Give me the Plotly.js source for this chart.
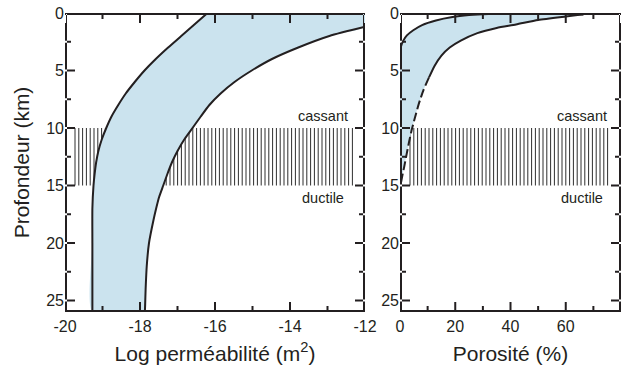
<!DOCTYPE html>
<html>
<head>
<meta charset="utf-8">
<script src="https://cdn.plot.ly/plotly-3.0.1.min.js"></script>
<style>
  html, body { margin: 0; padding: 0; background: #ffffff; }
  #chart { width: 628px; height: 371px; }
</style>
</head>
<body>
<div id="chart"></div>
<script>
// ---- Permeability envelope (log10 k, m^2) versus depth (km) ----
const permLowDepth = [0, 1, 2, 3, 4, 5, 6, 7, 8, 9, 10, 11, 12, 13, 14, 15, 17, 20, 26];
const permLow      = [-16.2, -16.55, -16.9, -17.25, -17.58, -17.88, -18.14, -18.38, -18.58, -18.76, -18.9, -19.02, -19.11, -19.17, -19.21, -19.24, -19.27, -19.27, -19.27];

const permHighDepth = [1.2, 2, 3, 4, 5, 6, 7, 8, 9, 10, 11, 12, 13, 14, 15, 16, 17, 18, 20, 22, 24, 26];
const permHigh      = [-12.0, -12.95, -13.78, -14.48, -15.02, -15.48, -15.85, -16.15, -16.38, -16.6, -16.82, -17.0, -17.15, -17.27, -17.38, -17.49, -17.57, -17.64, -17.76, -17.82, -17.85, -17.87];

// ---- Porosity envelope (%) versus depth (km) ----
const poroLowDepth = [3.3, 2.95, 2.4, 1.95, 1.5, 1.05, 0.65, 0.35, 0.18, 0.08, 0.04, 0.04, 0.06, 0.12];
const poroLow      = [0, 0.3, 1.2, 2.5, 4.8, 8, 13, 19, 25, 32, 40, 50, 60, 66.4];

const poroHighDepth = [0.12, 0.3, 0.6, 1.0, 1.3, 1.75, 2.4, 3.0, 3.7, 4.6, 5.6, 6.7, 7.9, 9.2, 10.2, 11.3, 12.4, 13.4, 14.2, 14.9];
const poroHigh      = [66.4, 60, 50, 42, 35, 28, 22, 18, 15, 12.5, 10.5, 8.5, 6.8, 5.3, 4.2, 3.2, 2.3, 1.5, 0.8, 0.25];
const poroExtrapolatedBelow = 5.6;   // the deeper part of the upper porosity bound is dashed

// ---- Brittle / ductile transition zone (km) ----
const transitionZone = [10, 15];
const zoneLabels = ['cassant', 'ductile'];
const zoneLabelDepth = [8.95, 16.05];

// ---- Axes ----
const permRange = [-20, -12];
const poroRange = [0, 80];
const depthRange = [26, 0];
const permTickVals = [-20, -18, -16, -14, -12];
const permTickText = ['-20', '-18', '-16', '-14', '-12'];
const permMinorVals = [-19, -17, -15, -13];
const poroTickVals = [0, 20, 40, 60, 80];
const poroMinorVals = [10, 30, 50, 70];
const depthTickVals = [0, 5, 10, 15, 20, 25];
const depthMinorVals = [2.5, 7.5, 12.5, 17.5, 22.5];

const W = 628, H = 371;
const INK = '#231f20';
const BLUE = '#cbe3ee';
const FONT = 'Liberation Sans, Arial, Helvetica, sans-serif';

// plot areas in pixels
const leftPx = [65, 365], rightPx = [400, 621], topPx = 13, botPx = 312;
const yDomain = [1 - botPx / H, 1 - topPx / H];
const TICK = 10, MINOR_TICK = 6, STROKE = 2;
const HATCH_PX = 3.8;   // spacing of the vertical hatch strokes

// data units per pixel along each axis
const perPx = (range, px) => (range[1] - range[0]) / (px[1] - px[0]);
const depthPerPx = (depthRange[0] - depthRange[1]) / (botPx - topPx);

// vertical hatch strokes across the transition zone, ending at the tips of the major ticks
function hatchTrace(range, px, xa, ya) {
  const per = perPx(range, px);
  const a = range[0] + TICK * per, b = range[1] - TICK * per;
  const step = HATCH_PX * per;
  const hx = [], hy = [];
  for (let v = a; v <= b + step * 0.01; v += step) {
    hx.push(v, v, null);
    hy.push(transitionZone[0], transitionZone[1], null);
  }
  return {
    type: 'scatter', mode: 'lines', xaxis: xa, yaxis: ya, x: hx, y: hy,
    line: { color: '#2e2e2e', width: 1 }, hoverinfo: 'skip'
  };
}

// panel frame and inward tick marks, built as small filled bars
function frameTrace(range, px, xa, ya, xMajor, xMinor) {
  const px1 = perPx(range, px);
  const yBot = depthRange[0], yTop = depthRange[1];
  const fx = [], fy = [];
  const bar = (x0, x1, y0, y1) => {
    fx.push(x0, x1, x1, x0, x0, null);
    fy.push(y0, y0, y1, y1, y0, null);
  };
  const hw = STROKE / 2;
  // frame sides
  bar(range[0], range[1], yBot, yBot - STROKE * depthPerPx);
  bar(range[0], range[1], yTop, yTop + STROKE * depthPerPx);
  bar(range[0], range[0] + STROKE * px1, yBot, yTop);
  bar(range[1] - STROKE * px1, range[1], yBot, yTop);
  // ticks on the bottom and top edges
  const xTick = (v, len) => {
    bar(v - hw * px1, v + hw * px1, yBot, yBot - len * depthPerPx);
    bar(v - hw * px1, v + hw * px1, yTop, yTop + len * depthPerPx);
  };
  // ticks on the left and right edges
  const yTick = (v, len) => {
    bar(range[0], range[0] + len * px1, v - hw * depthPerPx, v + hw * depthPerPx);
    bar(range[1] - len * px1, range[1], v - hw * depthPerPx, v + hw * depthPerPx);
  };
  xMajor.forEach((v) => xTick(v, TICK));
  xMinor.forEach((v) => xTick(v, MINOR_TICK));
  depthTickVals.forEach((v) => yTick(v, TICK));
  depthMinorVals.forEach((v) => yTick(v, MINOR_TICK));
  return {
    type: 'scatter', mode: 'lines', xaxis: xa, yaxis: ya, x: fx, y: fy,
    fill: 'toself', fillcolor: INK, line: { width: 0 }, hoverinfo: 'skip'
  };
}

// permeability band polygon: low bound downwards, high bound upwards, closed along the top edge
const permPolyX = permLow.concat(permHigh.slice().reverse(), [permRange[1]]);
const permPolyY = permLowDepth.concat(permHighDepth.slice().reverse(), [0]);

// porosity band polygon: low bound then high bound, closed along the zero-porosity edge
const poroPolyX = poroLow.concat(poroHigh);
const poroPolyY = poroLowDepth.concat(poroHighDepth);

// split the upper porosity bound into its solid and dashed parts
const solidX = [], solidY = [], dashX = [], dashY = [];
poroHigh.forEach((v, i) => {
  const d = poroHighDepth[i];
  if (d <= poroExtrapolatedBelow) { solidX.push(v); solidY.push(d); }
  if (d >= poroExtrapolatedBelow) { dashX.push(v); dashY.push(d); }
});

const curve = (x, y, xa, ya, dash) => ({
  type: 'scatter', mode: 'lines', x, y, xaxis: xa, yaxis: ya,
  line: { color: INK, width: 2, shape: 'spline', smoothing: 0.6, dash: dash || 'solid' },
  hoverinfo: 'skip'
});

const traces = [
  hatchTrace(permRange, leftPx, 'x', 'y'),
  { type: 'scatter', mode: 'lines', x: permPolyX, y: permPolyY, fill: 'toself', fillcolor: BLUE,
    line: { width: 0, shape: 'spline', smoothing: 0.6 }, hoverinfo: 'skip' },
  curve(permLow, permLowDepth, 'x', 'y'),
  curve(permHigh, permHighDepth, 'x', 'y'),
  frameTrace(permRange, leftPx, 'x', 'y', permTickVals, permMinorVals),

  hatchTrace(poroRange, rightPx, 'x2', 'y2'),
  { type: 'scatter', mode: 'lines', x: poroPolyX, y: poroPolyY, xaxis: 'x2', yaxis: 'y2',
    fill: 'toself', fillcolor: BLUE, line: { width: 0, shape: 'spline', smoothing: 0.6 }, hoverinfo: 'skip' },
  curve(poroLow, poroLowDepth, 'x2', 'y2'),
  curve(solidX, solidY, 'x2', 'y2'),
  curve(dashX, dashY, 'x2', 'y2', '9px,3.5px'),
  frameTrace(poroRange, rightPx, 'x2', 'y2', poroTickVals, poroMinorVals)
];

// axes carry the tick labels and titles
function axis(extra) {
  return Object.assign({
    showgrid: false, zeroline: false, showline: false, ticks: '',
    tickfont: { size: 16, color: INK, family: FONT }
  }, extra);
}

const titleFont = { size: 21, color: INK, family: FONT };

const layout = {
  width: W, height: H,
  margin: { l: 0, r: 0, t: 0, b: 0 },
  paper_bgcolor: '#ffffff', plot_bgcolor: '#ffffff',
  showlegend: false,
  font: { family: FONT, color: INK },
  xaxis: axis({
    domain: [leftPx[0] / W, leftPx[1] / W], range: permRange, anchor: 'y',
    tickmode: 'array', tickvals: permTickVals, ticktext: permTickText, ticklabelstandoff: 3,
    title: { text: 'Log perméabilité (m<sup>2</sup>)', font: titleFont, standoff: 12 }
  }),
  yaxis: axis({
    domain: yDomain, range: depthRange, anchor: 'x',
    tickmode: 'array', tickvals: depthTickVals, ticklabelstandoff: 0,
    title: { text: 'Profondeur (km)', font: titleFont, standoff: 10 }
  }),
  xaxis2: axis({
    domain: [rightPx[0] / W, rightPx[1] / W], range: poroRange, anchor: 'y2',
    tickmode: 'array', tickvals: poroTickVals, ticklabelstandoff: 3,
    title: { text: 'Porosité (%)', font: titleFont, standoff: 12 }
  }),
  yaxis2: axis({
    domain: yDomain, range: depthRange, anchor: 'x2',
    tickmode: 'array', tickvals: depthTickVals, ticklabelstandoff: 0
  }),
  annotations: []
};

// zone labels, placed near the right side of each panel
const labelX = { x: -13.12, x2: 65.8 };
Object.keys(labelX).forEach((xa) => {
  const ya = xa === 'x' ? 'y' : 'y2';
  zoneLabels.forEach((t, i) => {
    layout.annotations.push({
      text: t, x: labelX[xa], y: zoneLabelDepth[i], xref: xa, yref: ya,
      showarrow: false, xanchor: 'center', yanchor: 'middle',
      font: { size: 14.5, color: INK, family: FONT }
    });
  });
});

Plotly.newPlot('chart', traces, layout, { displayModeBar: false });
</script>
</body>
</html>
